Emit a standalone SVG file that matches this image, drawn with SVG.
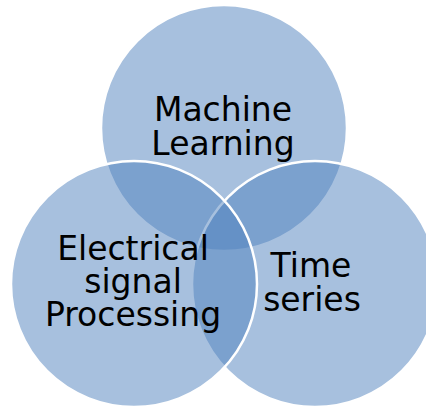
<svg xmlns="http://www.w3.org/2000/svg" width="426" height="409" viewBox="0 0 426 409">
<style>
.c{fill:#4F81BD;fill-opacity:0.5;stroke:#FFFFFF;stroke-width:2.5}
.t{font-family:"DejaVu Sans",sans-serif;font-size:33px;fill:#000000;text-anchor:middle}
</style>
<rect width="426" height="409" fill="#FFFFFF"/>
<g id="connectors"></g>
<g id="node-ml">
<circle class="c" cx="224" cy="128" r="123"/>
</g>
<g id="node-ts">
<circle class="c" cx="315" cy="284" r="123"/>
</g>
<g id="node-esp">
<circle class="c" cx="134" cy="284" r="123"/>
</g>
<g id="labels">
<text class="t" x="223" y="121">Machine</text>
<text class="t" x="223" y="154.5">Learning</text>
<text class="t" x="133" y="259.5">Electrical</text>
<text class="t" x="133" y="292.5">signal</text>
<text class="t" x="133" y="326">Processing</text>
<text class="t" x="311" y="277">Time</text>
<text class="t" x="312" y="311">series</text>
</g>
</svg>
